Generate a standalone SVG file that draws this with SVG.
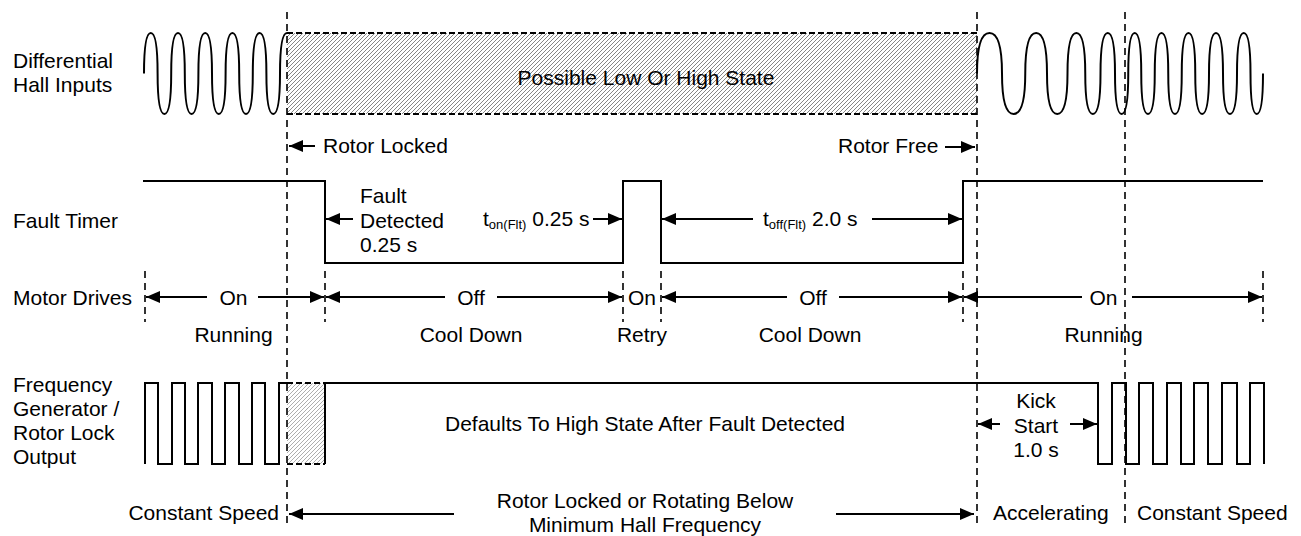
<svg xmlns="http://www.w3.org/2000/svg" width="1301" height="536" viewBox="0 0 1301 536">
<style>
.t{font-family:"Liberation Sans",Arial,sans-serif;font-size:21px;fill:#000}
.m{text-anchor:middle}
.e{text-anchor:end}
.s{font-size:13px}
.w{fill:none;stroke:#000;stroke-width:2}
.d{fill:none;stroke:#000;stroke-width:1.6;stroke-dasharray:7 5}
.b{fill:none;stroke:#000;stroke-width:2;stroke-dasharray:6 3}
.a{fill:none;stroke:#000;stroke-width:2;marker-end:url(#ah)}
</style>
<defs>
<marker id="ah" markerUnits="userSpaceOnUse" markerWidth="14" markerHeight="12" refX="14" refY="6" orient="auto">
<path d="M0,0 L14,6 L0,12 z" fill="#000"/>
</marker>
<pattern id="h1" patternUnits="userSpaceOnUse" width="4" height="4">
<path d="M-1,1 L1,-1 M0,4 L4,0 M3,5 L5,3" stroke="#444" stroke-width="0.65"/>
</pattern>
<pattern id="h2" patternUnits="userSpaceOnUse" width="4" height="4">
<path d="M-1,1 L1,-1 M0,4 L4,0 M3,5 L5,3" stroke="#999" stroke-width="0.8"/>
</pattern>
</defs>
<rect width="1301" height="536" fill="#fff"/>

<g id="hall">
<rect x="287" y="33" width="690" height="81" fill="url(#h1)"/>
<path class="b" d="M287,33 H977 M287,114 H977"/>
<path class="w" d="M144,73.5 C144,41.1 147.06,33 150.8,33 C154.54,33 157.6,41.1 157.6,73.5 C157.6,105.9 160.66,114 164.4,114 C168.14,114 171.2,105.9 171.2,73.5 C171.2,41.1 174.26,33 178,33 C181.74,33 184.8,41.1 184.8,73.5 C184.8,105.9 187.86,114 191.6,114 C195.34,114 198.4,105.9 198.4,73.5 C198.4,41.1 201.46,33 205.2,33 C208.94,33 212,41.1 212,73.5 C212,105.9 215.06,114 218.8,114 C222.54,114 225.6,105.9 225.6,73.5 C225.6,41.1 228.66,33 232.4,33 C236.14,33 239.2,41.1 239.2,73.5 C239.2,105.9 242.26,114 246,114 C249.74,114 252.8,105.9 252.8,73.5 C252.8,41.1 255.86,33 259.6,33 C263.34,33 266.4,41.1 266.4,73.5 C266.4,105.9 269.46,114 273.2,114 C276.94,114 280,105.9 280,73.5 C280,41.1 283.2,33 287,33"/>
<path class="w" d="M977,73.5 C977,41.1 982.63,33 989.5,33 C996.38,33 1002,41.1 1002,73.5 C1002,105.9 1007.24,114 1013.63,114 C1020.02,114 1025.25,105.9 1025.25,73.5 C1025.25,41.1 1030.15,33 1036.13,33 C1042.11,33 1047,41.1 1047,73.5 C1047,105.9 1051.61,114 1057.25,114 C1062.89,114 1067.5,105.9 1067.5,73.5 C1067.5,41.1 1071.5,33 1076.38,33 C1081.26,33 1085.25,41.1 1085.25,73.5 C1085.25,105.9 1088.69,114 1092.88,114 C1097.07,114 1100.5,105.9 1100.5,73.5 C1100.5,41.1 1103.76,33 1107.75,33 C1111.74,33 1115,41.1 1115,73.5 C1115,105.9 1117.99,114 1121.63,114 C1125.27,114 1128.25,105.9 1128.25,73.5 C1128.25,41.1 1131.17,33 1134.75,33 C1138.33,33 1141.25,41.1 1141.25,73.5 C1141.25,105.9 1144.29,114 1148,114 C1151.71,114 1154.75,105.9 1154.75,73.5 C1154.75,41.1 1157.79,33 1161.5,33 C1165.21,33 1168.25,41.1 1168.25,73.5 C1168.25,105.9 1171.29,114 1175,114 C1178.71,114 1181.75,105.9 1181.75,73.5 C1181.75,41.1 1184.79,33 1188.5,33 C1192.21,33 1195.25,41.1 1195.25,73.5 C1195.25,105.9 1198.35,114 1202.13,114 C1205.91,114 1209,105.9 1209,73.5 C1209,41.1 1212.15,33 1216,33 C1219.85,33 1223,41.1 1223,73.5 C1223,105.9 1226.15,114 1230,114 C1233.85,114 1237,105.9 1237,73.5 C1237,41.1 1240.04,33 1243.75,33 C1247.46,33 1250.5,41.1 1250.5,73.5 C1250.5,105.9 1253.31,114 1256.75,114 C1260.19,114 1263,105.9 1263,73.5"/>
<text class="t" x="13" y="68">Differential</text>
<text class="t" x="13" y="92">Hall Inputs</text>
<text class="t m" x="646" y="85">Possible Low Or High State</text>
</g>

<g id="fault-timer">
<path class="w" d="M143,181 H325 V263 H623 V181 H661 V263 H963 V181 H1263"/>
<text class="t" x="13" y="228">Fault Timer</text>
<text class="t" x="323" y="153">Rotor Locked</text>
<text class="t" x="838" y="153">Rotor Free</text>
<text class="t" x="360" y="203">Fault</text>
<text class="t" x="360" y="228">Detected</text>
<text class="t" x="360" y="252">0.25 s</text>
<text class="t" x="483" y="226">t<tspan class="s" dy="3">on(Flt)</tspan><tspan dy="-3"> 0.25 s</tspan></text>
<text class="t" x="763" y="226">t<tspan class="s" dy="3">off(Flt)</tspan><tspan dy="-3"> 2.0 s</tspan></text>
</g>

<g id="motor-drives">
<text class="t" x="13" y="305">Motor Drives</text>
<text class="t m" x="233.5" y="305">On</text>
<text class="t m" x="471" y="305">Off</text>
<text class="t m" x="642" y="305">On</text>
<text class="t m" x="813" y="305">Off</text>
<text class="t m" x="1103.5" y="305">On</text>
<text class="t m" x="233.5" y="342">Running</text>
<text class="t m" x="471" y="342">Cool Down</text>
<text class="t m" x="642" y="342">Retry</text>
<text class="t m" x="810" y="342">Cool Down</text>
<text class="t m" x="1103.5" y="342">Running</text>
</g>

<g id="fg-output">
<rect x="287" y="383" width="38" height="81" fill="url(#h2)"/>
<path class="b" d="M287,383 H325 M287,464 H325"/>
<path class="w" d="M145,464 V383 H158 V464 H172 V383 H185 V464 H198 V383 H212 V464 H225 V383 H239 V464 H252 V383 H265 V464 H279 V383 H287"/>
<path class="w" d="M325,464 V383 H1098 V464 H1112 V383 H1126 V464 H1139 V383 H1153 V464 H1167 V383 H1181 V464 H1194 V383 H1208 V464 H1222 V383 H1237 V464 H1250 V383 H1264 V464"/>
<text class="t" x="13" y="392">Frequency</text>
<text class="t" x="13" y="416">Generator /</text>
<text class="t" x="13" y="440">Rotor Lock</text>
<text class="t" x="13" y="464">Output</text>
<text class="t m" x="645" y="431">Defaults To High State After Fault Detected</text>
<text class="t m" x="1036" y="408">Kick</text>
<text class="t m" x="1036" y="433">Start</text>
<text class="t m" x="1036" y="457">1.0 s</text>
</g>

<g id="speed-states">
<text class="t e" x="279" y="520">Constant Speed</text>
<text class="t m" x="645" y="508">Rotor Locked or Rotating Below</text>
<text class="t m" x="645" y="532">Minimum Hall Frequency</text>
<text class="t" x="993" y="520">Accelerating</text>
<text class="t" x="1137" y="520">Constant Speed</text>
</g>

<g id="connectors">
<path class="d" d="M287,12 V528 M977,12 V528 M1125,12 V528"/>
<path class="d" d="M145,271 V322 M325,271 V322 M623,271 V322 M661,271 V322 M963,271 V322 M1263,271 V322"/>
<line class="a" x1="315" y1="146" x2="289" y2="146"/>
<line class="a" x1="945" y1="147" x2="975" y2="147"/>
<line class="a" x1="353" y1="219" x2="326" y2="219"/>
<line class="a" x1="593" y1="219" x2="622" y2="219"/>
<line class="a" x1="753" y1="219" x2="662" y2="219"/>
<line class="a" x1="872" y1="219" x2="962" y2="219"/>
<line class="a" x1="207" y1="297" x2="146" y2="297"/>
<line class="a" x1="258" y1="297" x2="324" y2="297"/>
<line class="a" x1="445" y1="297" x2="326" y2="297"/>
<line class="a" x1="497" y1="297" x2="622" y2="297"/>
<line class="a" x1="787" y1="297" x2="662" y2="297"/>
<line class="a" x1="839" y1="297" x2="962" y2="297"/>
<line class="a" x1="1082" y1="297" x2="964" y2="297"/>
<line class="a" x1="1132" y1="297" x2="1262" y2="297"/>
<line class="a" x1="1000" y1="424" x2="978" y2="424"/>
<line class="a" x1="1070" y1="424" x2="1097" y2="424"/>
<line class="a" x1="454" y1="514" x2="289" y2="514"/>
<line class="a" x1="836" y1="514" x2="974" y2="514"/>
</g>
</svg>
